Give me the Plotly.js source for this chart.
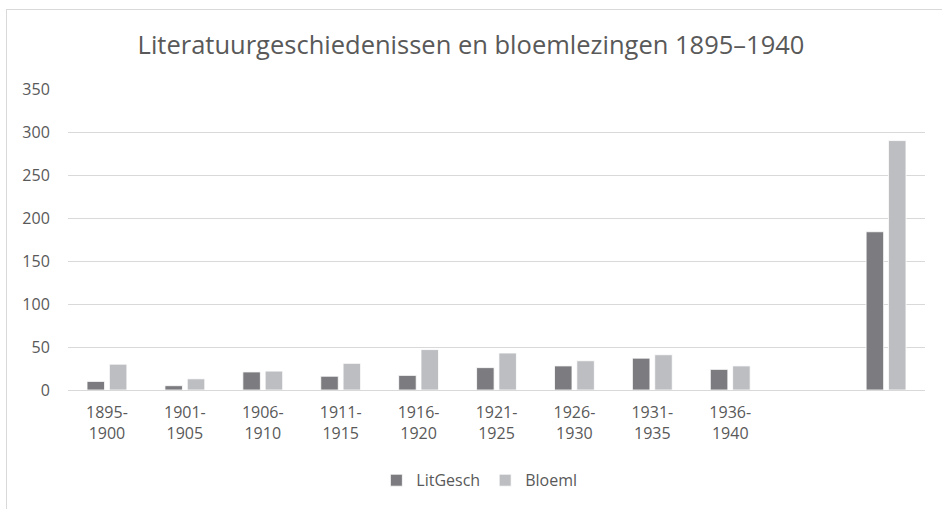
<!DOCTYPE html>
<html>
<head>
<meta charset="utf-8">
<script src="https://cdn.plot.ly/plotly-3.0.1.min.js"></script>
<style>
  html, body { margin: 0; padding: 0; width: 942px; height: 509px; overflow: hidden; background: #fff; }
  #frame { position: absolute; left: 6px; top: 9px; width: 1000px; height: 600px; border: 1px solid #d9d9d9; box-sizing: border-box; }
  #chart { position: absolute; left: 0; top: 0; width: 942px; height: 509px; }
</style>
</head>
<body>
<div id="frame"></div>
<div id="chart"></div>
<script>
const categories = ["1895-1900", "1901-1905", "1906-1910", "1911-1915", "1916-1920", "1921-1925", "1926-1930", "1931-1935", "1936-1940", "", ""];
const litGesch = [10, 5, 21, 16, 17, 26, 28, 37, 24, null, 184];
const bloeml   = [30, 13, 22, 31, 47, 43, 34, 41, 28, null, 290];
const yTicks = [0, 50, 100, 150, 200, 250, 300, 350];

const idx = categories.map((c, i) => i);
const tickText = categories.map(c => c.replace("-", "-<br>"));

const common = {type: "bar", x: idx, hoverinfo: "y"};
const data = [
  Object.assign({}, common, {name: "LitGesch", y: litGesch, marker: {color: "#7c7c80", line: {color: "#ffffff", width: 0.8}}}),
  Object.assign({}, common, {name: "Bloeml", y: bloeml, marker: {color: "#bdbec2", line: {color: "#ffffff", width: 0.8}}})
];

const fnt = "Open Sans, Liberation Sans, sans-serif";
const layout = {
  width: 942, height: 509,
  paper_bgcolor: "rgba(0,0,0,0)", plot_bgcolor: "rgba(0,0,0,0)",
  margin: {l: 68, r: 17, t: 89, b: 119},
  font: {family: fnt, color: "#595959", size: 16},
  title: {text: "Literatuurgeschiedenissen en bloemlezingen 1895–1940", x: 0.5, xanchor: "center", xref: "container", y: 0.912, yanchor: "middle", yref: "container", font: {family: fnt, size: 25.5, color: "#595959"}},
  barmode: "group", bargap: 0.427, bargroupgap: 0.215,
  xaxis: {range: [-0.5, 10.5], tickmode: "array", tickvals: idx, ticktext: tickText, showgrid: false, zeroline: false, showline: false, ticks: "outside", ticklen: 8, tickcolor: "rgba(0,0,0,0)", tickfont: {size: 16, color: "#595959"}, fixedrange: true},
  yaxis: {range: [0, 350], tickmode: "array", tickvals: yTicks, showgrid: true, gridcolor: "#d9d9d9", gridwidth: 1, zeroline: true, zerolinecolor: "#d9d9d9", zerolinewidth: 1, showline: false, ticks: "outside", ticklen: 14, tickcolor: "rgba(0,0,0,0)", tickfont: {size: 16, color: "#595959"}, fixedrange: true},
  showlegend: true,
  legend: {orientation: "h", x: 0.48, xanchor: "center", y: -0.30, yanchor: "middle", font: {size: 16, color: "#595959"}, itemwidth: 30, traceorder: "normal"}
};
Plotly.newPlot("chart", data, layout, {displayModeBar: false, staticPlot: true});
</script>
</body>
</html>
